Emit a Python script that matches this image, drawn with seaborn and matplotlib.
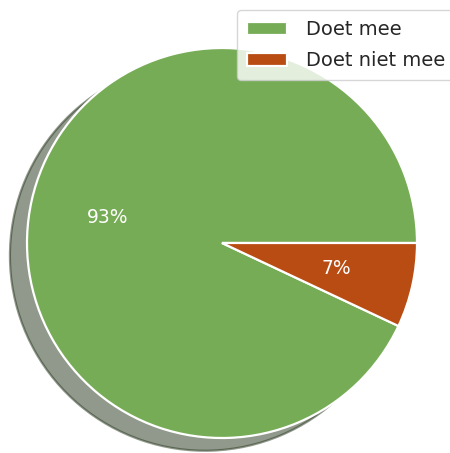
import matplotlib
matplotlib.use("Agg")
import matplotlib.pyplot as plt
import seaborn as sns

labels = ["Doet mee", "Doet niet mee"]
shares = [93, 7]
colors = ["#77ac56", "#b84c13"]

sns.set_theme(style="white")
plt.rcParams["font.family"] = ["DejaVu Sans"]

fig = plt.figure(figsize=(4.5, 4.53), dpi=100)
ax = fig.add_axes([0, 0, 1, 1])

wedges, texts, autotexts = ax.pie(
    shares,
    colors=colors,
    startangle=0,
    autopct="%1.0f%%",
    pctdistance=0.6,
    shadow={"ox": -0.063, "oy": -0.047, "shade": 0.7},
    wedgeprops={"edgecolor": "white", "linewidth": 1.6},
    textprops={"color": "white", "fontsize": 13.5},
)

ax.set_aspect("auto")
ax.set_xlim(-222 / 195, 228 / 195)
ax.set_ylim(-210 / 195, 243 / 195)
ax.axis("off")

leg = ax.legend(
    wedges, labels,
    loc="upper right",
    bbox_to_anchor=(1.012, 0.977),
    borderaxespad=0,
    fontsize=14,
    frameon=True,
    handlelength=2.05,
    handleheight=0.7,
    handletextpad=1.0,
    labelspacing=0.62,
    borderpad=0.5,
    fancybox=True,
)
for t in leg.get_texts():
    t.set_color("#262626")

fig.savefig("out.png", dpi=100)
